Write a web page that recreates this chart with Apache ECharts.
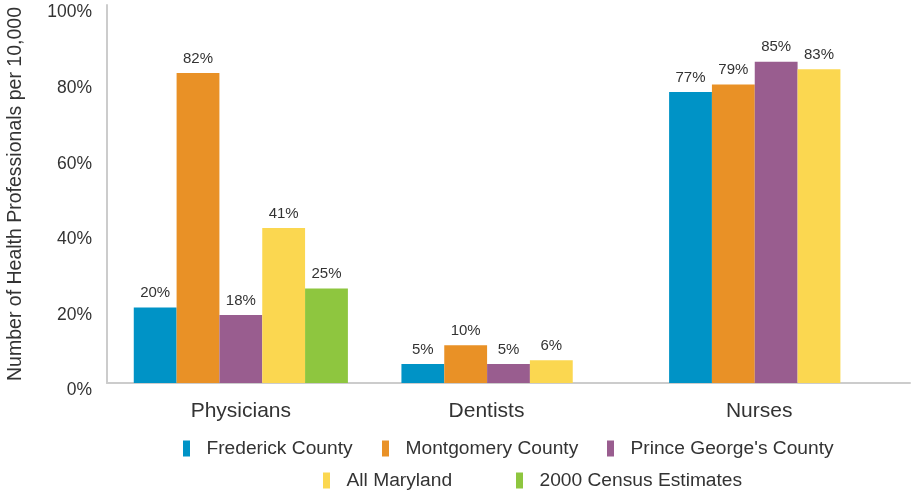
<!DOCTYPE html>
<html>
<head>
<meta charset="utf-8">
<script src="https://cdn.jsdelivr.net/npm/echarts@6/dist/echarts.min.js"></script>
<style>
  html, body { margin: 0; padding: 0; background: #fff; }
  #chart_container { width: 912px; height: 493px; }
</style>
</head>
<body>
<div id="chart_container"></div>
<script>
// data
var categories = ['Physicians', 'Dentists', 'Nurses'];
var seriesNames = ['Frederick County', 'Montgomery County', "Prince George's County", 'All Maryland', '2000 Census Estimates'];
var frederick = [20, 5, 77];
var montgomery = [82, 10, 79];
var princeGeorges = [18, 5, 85];
var allMaryland = [41, 6, 83];
var census2000 = [25, null, null];
var yTicks = [0, 20, 40, 60, 80, 100];

var colors = ['#0093c6', '#e99126', '#995d8f', '#fbd750', '#8ec63f'];
var txt = '#333';
var font = "'Liberation Sans', Arial, sans-serif";

// where each legend entry sits (two rows, like the original)
var legendPos = [[183, 439], [382, 439], [607, 439], [323, 471], [516, 471]];

var chart = echarts.init(document.getElementById('chart_container'));

function makeSeries(name, values, color) {
    return {
        name: name,
        type: 'bar',
        data: values,
        barGap: '0%',
        barCategoryGap: '20%',
        itemStyle: { color: color },
        label: {
            show: true,
            position: 'top',
            distance: 7,
            color: txt,
            fontFamily: font,
            fontSize: 15,
            formatter: '{c}%'
        }
    };
}

var allValues = [frederick, montgomery, princeGeorges, allMaryland, census2000];
var series = [];
var legends = [];
for (var i = 0; i < seriesNames.length; i++) {
    series.push(makeSeries(seriesNames[i], allValues[i], colors[i]));
    legends.push({
        data: [seriesNames[i]],
        left: legendPos[i][0],
        top: legendPos[i][1],
        padding: 0,
        icon: 'rect',
        itemWidth: 7,
        itemHeight: 16,
        textStyle: { color: txt, fontFamily: font, fontSize: 19.2, padding: [0, 0, 0, 11.5] }
    });
}

var option = {
    animation: false,
    grid: { left: 107, right: 2, top: 5, bottom: 110, containLabel: false, outerBoundsMode: 'none' },
    legend: legends,
    xAxis: {
        type: 'category',
        data: categories,
        axisLine: { lineStyle: { color: '#cccccc', width: 2 } },
        axisTick: { show: false },
        axisLabel: {
            margin: 18,
            color: txt,
            fontFamily: font,
            fontSize: 21,
            formatter: function (v) {
                // the labels sit under the drawn bars, not the slot centres
                if (v === 'Dentists') return '{d|' + v + '}';
                if (v === 'Nurses') return '{n|' + v + '}';
                return v;
            },
            rich: {
                d: { fontSize: 21, fontFamily: font, color: txt, padding: [0, 44, 0, 0] },
                n: { fontSize: 21, fontFamily: font, color: txt, padding: [0, 34, 0, 0] }
            }
        }
    },
    yAxis: {
        type: 'value',
        min: yTicks[0],
        max: yTicks[yTicks.length - 1],
        interval: 20,
        name: 'Number of Health Professionals per 10,000',
        nameLocation: 'middle',
        nameGap: 81,
        nameTextStyle: { color: txt, fontFamily: font, fontSize: 19.5 },
        axisLine: { show: true, lineStyle: { color: '#cccccc', width: 2 } },
        axisTick: { show: false },
        splitLine: { show: false },
        axisLabel: {
            margin: 15,
            formatter: '{t|{value}%}',
            rich: {
                t: { color: txt, fontFamily: font, fontSize: 17.5, padding: [15, 0, 0, 0] }
            }
        }
    },
    series: series
};

chart.setOption(option);
</script>
</body>
</html>
